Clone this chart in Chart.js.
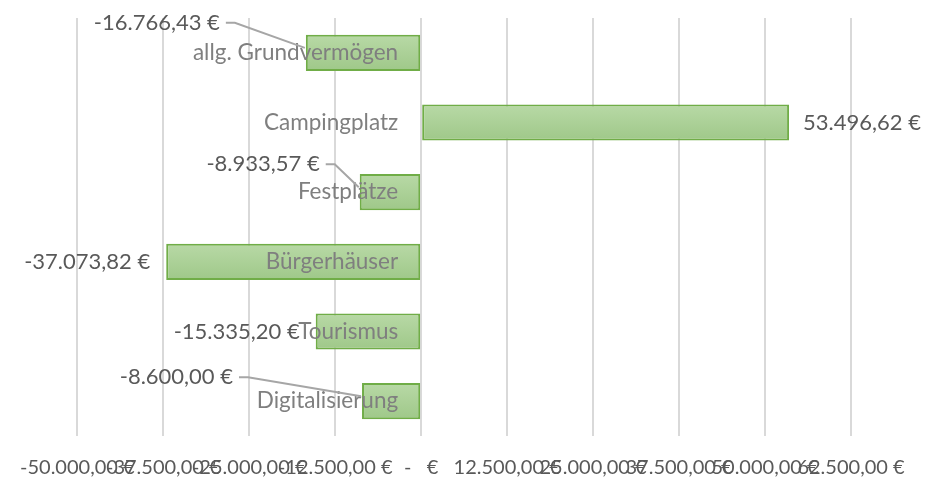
<!DOCTYPE html>
<html><head><meta charset="utf-8">
<script src="https://cdn.jsdelivr.net/npm/chart.js@4/dist/chart.umd.min.js"></script>
<style>html,body{margin:0;padding:0;background:#fff}#wrap{width:933px;height:481px;position:relative}</style>
</head><body><div id="wrap"><canvas id="c"></canvas></div>
<script>
const categories = ['allg. Grundvermögen', 'Campingplatz', 'Festplätze', 'Bürgerhäuser', 'Tourismus', 'Digitalisierung'];
const values = [-16766.43, 53496.62, -8933.57, -37073.82, -15335.20, -8600.00];
const tickValues = [-50000, -37500, -25000, -12500, 0, 12500, 25000, 37500, 50000, 62500];
const axisMin = -50000, axisMax = 62500;

function fmtEuro(v, zeroDash) {
  if (v === 0 && zeroDash) return '-   €';
  const neg = v < 0;
  const s = Math.abs(v).toFixed(2).split('.');
  const intPart = s[0].replace(/\B(?=(\d{3})+(?!\d))/g, '.');
  return (neg ? '-' : '') + intPart + ',' + s[1] + ' €';
}

const FONT = 'Lato, "Open Sans", sans-serif';

const gradientPlugin = {
  id: 'barGradient',
  beforeDatasetsDraw(chart) {
    const ctx = chart.ctx;
    chart.getDatasetMeta(0).data.forEach(bar => {
      const p = bar.getProps(['y', 'height'], true);
      const g = ctx.createLinearGradient(0, p.y - p.height / 2, 0, p.y + p.height / 2);
      g.addColorStop(0, '#b8d9a6');
      g.addColorStop(1, '#9fc889');
      bar.options.backgroundColor = g;
    });
  }
};

const labelPlugin = {
  id: 'valueLabels',
  afterDatasetsDraw(chart, args, opts) {
    const ctx = chart.ctx;
    const meta = chart.getDatasetMeta(0);
    const xs = chart.scales.x, ys = chart.scales.y;
    const x0 = xs.getPixelForValue(0);
    ctx.save();
    ctx.textBaseline = 'middle';
    ctx.font = opts.catFont;
    ctx.fillStyle = opts.catColor;
    ctx.textAlign = 'right';
    categories.forEach((c, i) => ctx.fillText(c, x0 - opts.catGap, ys.getPixelForValue(i)));
    ctx.font = opts.valFont;
    values.forEach((v, i) => {
      const bar = meta.data[i];
      const end = bar.x, cy = bar.y;
      const sh = opts.shifts[i];
      const txt = fmtEuro(v);
      ctx.fillStyle = opts.valColor;
      if (v >= 0) {
        ctx.textAlign = 'left';
        ctx.fillText(txt, end + 14 + sh[0], cy + sh[1]);
      } else {
        const rx = end - 16 + sh[0];
        const ly = cy + sh[1];
        ctx.textAlign = 'right';
        ctx.fillText(txt, rx, ly);
        if (sh[0] !== 0 || sh[1] !== 0) {
          ctx.strokeStyle = opts.leaderColor;
          ctx.lineWidth = 2;
          ctx.beginPath();
          ctx.moveTo(rx + 6, ly);
          ctx.lineTo(rx + 15, ly);
          ctx.lineTo(end - 1, cy - 5);
          ctx.stroke();
        }
      }
    });
    ctx.restore();
  }
};

new Chart(document.getElementById('c'), {
  type: 'bar',
  data: {
    labels: categories,
    datasets: [{
      data: values,
      backgroundColor: () => '#acd098',
      borderColor: '#70ad47',
      borderWidth: 2,
      borderSkipped: false,
      categoryPercentage: 1,
      barPercentage: 0.52
    }]
  },
  options: {
    indexAxis: 'y',
    responsive: true,
    maintainAspectRatio: false,
    animation: false,
    layout: { padding: { left: 75, right: 82, top: 18, bottom: -19 } },
    plugins: {
      legend: { display: false },
      tooltip: { enabled: false },
      valueLabels: {
        catFont: '22.5px ' + FONT,
        catColor: '#7f7f7f',
        catGap: 23,
        valFont: '22px ' + FONT,
        valColor: '#595959',
        leaderColor: '#a6a6a6',
        shifts: [[-70, -30], [0, 0], [-24, -28], [0, 0], [0, 0], [-113, -24]]
      }
    },
    scales: {
      y: { type: 'category', display: false, offset: true },
      x: {
        type: 'linear',
        min: axisMin,
        max: axisMax,
        afterBuildTicks: s => { s.ticks = tickValues.map(v => ({ value: v })); },
        border: { display: false },
        grid: { color: '#d9d9d9', lineWidth: 2, drawTicks: false },
        ticks: {
          autoSkip: false,
          maxRotation: 0,
          minRotation: 0,
          padding: 20,
          color: '#595959',
          font: { family: FONT, size: 20 },
          callback: v => fmtEuro(v, true)
        }
      }
    }
  },
  plugins: [gradientPlugin, labelPlugin]
});
</script>
</body></html>
